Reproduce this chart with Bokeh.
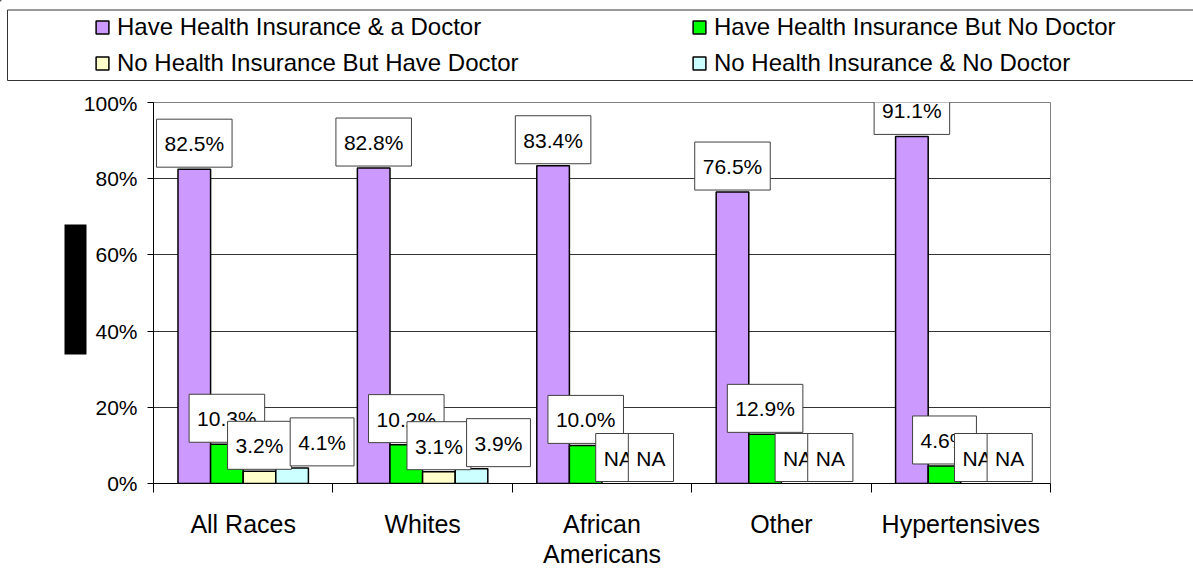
from bokeh.plotting import figure
from bokeh.layouts import column
from bokeh.models import (Range1d, FixedTicker, PrintfTickFormatter, Label,
                          Legend, LegendItem, PolyAnnotation, LinearAxis)
from bokeh.embed import file_html
from bokeh.resources import INLINE

# ---- data -------------------------------------------------------------
categories = ["All Races", "Whites", "African\nAmericans", "Other", "Hypertensives"]
series_names = [
    "Have Health Insurance & a Doctor",
    "Have Health Insurance But No Doctor",
    "No Health Insurance But Have Doctor",
    "No Health Insurance & No Doctor",
]
ins_and_doctor = [82.5, 82.8, 83.4, 76.5, 91.1]
ins_no_doctor = [10.3, 10.2, 10.0, 12.9, 4.6]
no_ins_doctor = [3.2, 3.1, None, None, None]      # None = not available
no_ins_no_doctor = [4.1, 3.9, None, None, None]
y_ticks = [0, 20, 40, 60, 80, 100]

series_values = [ins_and_doctor, ins_no_doctor, no_ins_doctor, no_ins_no_doctor]
colors = ["#CC99FF", "#00FF00", "#FFFFCC", "#CCFFFF"]

FONT = "Liberation Sans"
W = 1193
LEG_H = 91
n_cat = len(categories)
n_ser = len(series_values)
group_frac = 0.727
bar_w = group_frac / n_ser

# ---- legend strip (pixel coordinates, y pointing down) ----------------
lg = figure(width=W, height=LEG_H, x_range=Range1d(0, W), y_range=Range1d(LEG_H, 0),
            output_backend="svg", toolbar_location=None,
            x_axis_location=None, y_axis_location=None, min_border=0)
lg.frame_align = False
lg.grid.visible = False
lg.outline_line_color = None
lg.background_fill_color = "white"
lg.border_fill_color = "white"

# swatch carriers: one glyph per series, parked far outside the visible strip
swatches = [lg.vbar(x=[-10 * W], bottom=[-10 * LEG_H], top=[-10 * LEG_H + 1], width=1,
                    fill_color=c, line_color="black", line_width=1.5)
            for c in colors]
order = [0, 2, 1, 3]          # legend fills column by column
legend = Legend(
    items=[LegendItem(label=series_names[j], renderers=[swatches[j]]) for j in order],
    ncols=2, location=(94, 14),
    glyph_width=16, glyph_height=16, label_standoff=7,
    label_width=566, label_height=27, spacing=8, padding=0, margin=0,
    label_text_font=FONT, label_text_font_size="24px", label_text_color="black",
    border_line_alpha=0, background_fill_alpha=0)
lg.add_layout(legend, "center")
# legend frame, running off the right-hand edge
lg.add_layout(PolyAnnotation(xs=[W + 50, 7, 7, W + 50], ys=[9.5, 9.5, 80, 80],
                             fill_alpha=0, line_color="#333333", line_alpha=1,
                             line_width=1))

# ---- chart -----------------------------------------------------------
p = figure(width=W, height=571 - LEG_H,
           x_range=Range1d(0, n_cat), y_range=Range1d(0, 100),
           output_backend="svg", toolbar_location=None,
           min_border_left=153, min_border_right=143,
           min_border_top=102 - LEG_H, min_border_bottom=85)
p.frame_align = False
p.background_fill_color = "white"
p.border_fill_color = "white"
p.outline_line_color = "#808080"
p.outline_line_width = 1

p.yaxis.ticker = FixedTicker(ticks=y_ticks)
p.yaxis.formatter = PrintfTickFormatter(format="%d%%")
p.yaxis.major_label_text_font = FONT
p.yaxis.major_label_text_font_size = "21px"
p.yaxis.major_label_text_color = "black"
p.yaxis.major_tick_out = 6
p.yaxis.major_tick_in = 0
p.yaxis.minor_tick_line_color = None
p.yaxis.major_label_standoff = 10
p.yaxis.axis_line_color = "black"

# masked axis title: a single very thick tick on an extra, label-less axis
mask_axis = LinearAxis(ticker=FixedTicker(ticks=[51]), major_label_overrides={51: ""},
                       axis_line_color=None, minor_tick_line_color=None,
                       major_tick_in=6, major_tick_out=16,
                       major_tick_line_width=130, major_tick_line_color="black",
                       major_label_standoff=0)
p.add_layout(mask_axis, "left")

centers = [i + 0.5 for i in range(n_cat)]
p.xaxis.ticker = FixedTicker(ticks=centers, minor_ticks=list(range(n_cat + 1)))
p.xaxis.major_label_overrides = {c: name for c, name in zip(centers, categories)}
p.xaxis.major_label_text_font = FONT
p.xaxis.major_label_text_font_size = "25px"
p.xaxis.major_label_text_line_height = 1.1
p.xaxis.major_label_text_color = "black"
p.xaxis.major_tick_line_color = None
p.xaxis.major_tick_out = 0
p.xaxis.major_tick_in = 0
p.xaxis.minor_tick_out = 9
p.xaxis.minor_tick_in = 0
p.xaxis.minor_tick_line_color = "black"
p.xaxis.major_label_standoff = 17
p.xaxis.axis_line_color = "black"

p.xgrid.grid_line_color = None
p.ygrid.ticker = FixedTicker(ticks=y_ticks)
p.ygrid.grid_line_color = "#333333"
p.ygrid.grid_line_width = 1

for k, (vals, color) in enumerate(zip(series_values, colors)):
    xs = [c + (k - (n_ser - 1) / 2) * bar_w for c, v in zip(centers, vals) if v is not None]
    tops = [v for v in vals if v is not None]
    p.vbar(x=xs, top=tops, width=bar_w, bottom=0,
           fill_color=color, line_color="black", line_width=1.5)

# boxed value labels, drawn series by series; a few are nudged sideways
label_nudge = {(3, 0): 30, (3, 1): 27}
for k, vals in enumerate(series_values):
    for i, v in enumerate(vals):
        x = centers[i] + (k - (n_ser - 1) / 2) * bar_w
        p.add_layout(Label(
            x=x, y=(v if v is not None else 0),
            text=(f"{v:.1f}%" if v is not None else "NA"),
            anchor="bottom_center", x_offset=label_nudge.get((k, i), 0), y_offset=2,
            text_font=FONT, text_font_size="21px", text_color="black",
            background_fill_color="white", border_line_color="#404040",
            border_line_width=1,
            padding=dict(left=8, right=8, top=13, bottom=12)))

layout = column(lg, p, spacing=0)
open("out.html", "w").write(file_html(layout, INLINE))
